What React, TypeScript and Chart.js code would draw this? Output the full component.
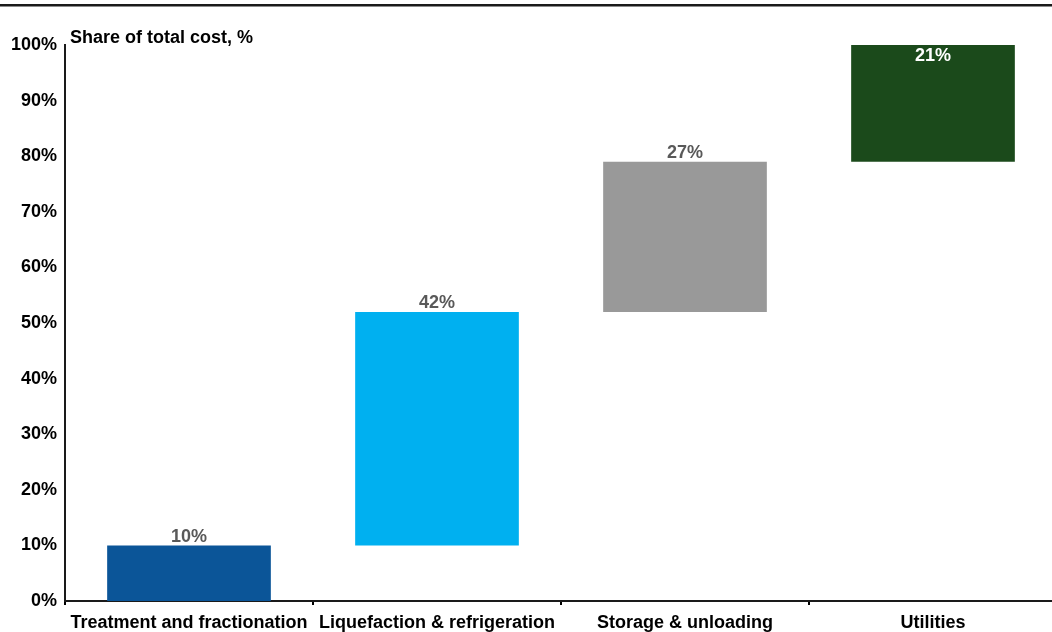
import React, { useEffect, useRef } from 'react';
import { Chart, registerables } from 'chart.js';

Chart.register(...registerables);

const categories = [
  'Treatment and fractionation',
  'Liquefaction & refrigeration',
  'Storage & unloading',
  'Utilities',
];
const shares = [10, 42, 27, 21];
const barColors = ['#0B5598', '#00B0F0', '#999999', '#1B4A1B'];
const valueLabelColors = ['#595959', '#595959', '#595959', '#FFFFFF'];
const valueLabelInside = [false, false, false, true];
const axisTitle = 'Share of total cost, %';
const yMin = 0;
const yMax = 100;
const yStep = 10;

const FONT = '"Liberation Sans", Arial, sans-serif';

export default function App() {
  const ref = useRef<HTMLCanvasElement | null>(null);

  useEffect(() => {
    if (!ref.current) return;
    // waterfall: each bar floats on the running total of the previous shares
    let running = 0;
    const floating = shares.map((v) => {
      const seg = [running, running + v];
      running += v;
      return seg;
    });

    const decorPlugin = {
      id: 'decor',
      afterDraw(chart: any) {
        const { ctx, chartArea, width } = chart;
        ctx.save();
        // top frame line
        ctx.fillStyle = '#1a1a1a';
        ctx.fillRect(0, 4, width, 2.5);
        // axis title
        ctx.font = `bold 18px ${FONT}`;
        ctx.fillStyle = '#000';
        ctx.textAlign = 'left';
        ctx.textBaseline = 'alphabetic';
        ctx.fillText(axisTitle, chartArea.left + 5, chartArea.top - 2.5);
        // value labels
        const meta = chart.getDatasetMeta(0);
        meta.data.forEach((el: any, i: number) => {
          const top = Math.min(el.y, el.base);
          ctx.fillStyle = valueLabelColors[i];
          ctx.textAlign = 'center';
          const y = valueLabelInside[i] ? top + 16 : top - 3.5;
          ctx.fillText(shares[i] + '%', el.x, y);
        });
        ctx.restore();
      },
    };

    const chart = new Chart(ref.current, {
      type: 'bar',
      data: {
        labels: categories,
        datasets: [
          {
            data: floating as any,
            backgroundColor: barColors,
            borderWidth: 0,
            categoryPercentage: 1,
            barPercentage: 0.66,
          },
        ],
      },
      options: {
        responsive: false,
        animation: false,
        devicePixelRatio: 1,
        layout: { padding: { top: 45, right: 2, bottom: 0, left: 0 } },
        plugins: {
          legend: { display: false },
          tooltip: { enabled: false },
          title: { display: false },
        },
        scales: {
          x: {
            type: 'category',
            offset: true,
            grid: {
              display: true,
              drawOnChartArea: false,
              drawTicks: true,
              tickLength: 4,
              color: '#000',
              lineWidth: 2,
              offset: true,
            },
            border: { display: true, color: '#1a1a1a', width: 2 },
            ticks: {
              color: '#000',
              font: { family: FONT, size: 18, weight: 'bold' },
              padding: 7,
              maxRotation: 0,
              autoSkip: false,
            },
            afterFit(scale: any) {
              scale.height = 31;
            },
          },
          y: {
            min: yMin,
            max: yMax,
            grid: { display: false, drawTicks: false },
            border: { display: true, color: '#1a1a1a', width: 2 },
            ticks: {
              stepSize: yStep,
              color: '#000',
              font: { family: FONT, size: 18, weight: 'bold' },
              padding: 8,
              callback: (v: any) => v + '%',
            },
            afterFit(scale: any) {
              scale.width = 65;
            },
          },
        },
      },
      plugins: [decorPlugin],
    });
    return () => chart.destroy();
  }, []);

  return (
    <div
      style={{
        position: 'fixed',
        left: 0,
        top: 0,
        width: 1052,
        height: 632,
        overflow: 'hidden',
        background: '#fff',
      }}
    >
      <canvas ref={ref} width={1059} height={632} style={{ display: 'block' }} />
    </div>
  );
}
